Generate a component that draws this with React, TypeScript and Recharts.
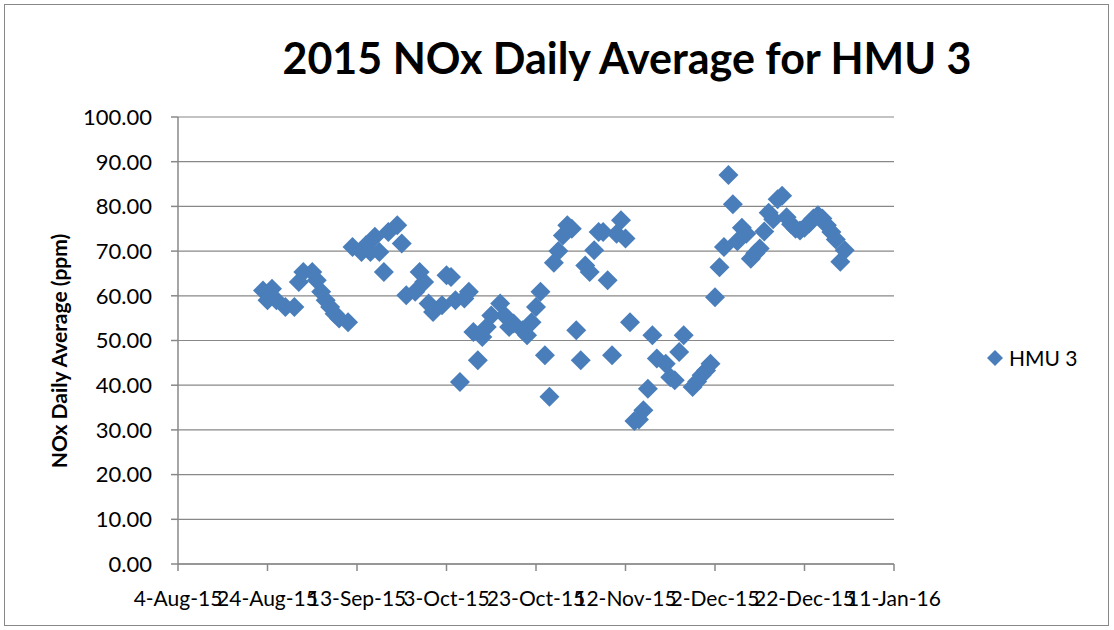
import { ScatterChart, Scatter, XAxis, YAxis, CartesianGrid, Legend } from 'recharts'

// x values are days counted from 4-Aug-15
const days = [
  19, 20, 21, 22, 24, 26, 27, 28, 30, 31, 32, 33, 34, 35, 36, 38,
  39, 41, 42, 43, 44, 45, 46, 47, 49, 50, 51, 53, 54, 55, 56, 57,
  59, 60, 61, 62, 63, 64, 65, 66, 67, 68, 69, 70, 72, 73, 74, 75,
  77, 78, 79, 80, 81, 82, 83, 84, 85, 86, 87, 88, 89, 90, 91, 92,
  93, 94, 95, 96, 97, 98, 99, 100, 101, 102, 103, 104, 105, 106, 107, 109,
  110, 111, 112, 113, 115, 116, 117, 118, 119, 120, 121, 122, 123, 124, 125, 126,
  127, 128, 129, 130, 131, 132, 133, 134, 135, 136, 137, 138, 139, 140, 141, 142,
  143, 144, 145, 146, 147, 148, 149,
]
const nox = [
  61.2, 59.0, 61.6, 59.0, 57.5, 57.5, 63.1, 65.3, 65.3, 63.5, 60.9, 59.0, 57.5, 56.0, 54.9, 54.1,
  70.9, 69.8, 71.3, 69.8, 73.2, 69.8, 65.3, 74.3, 75.8, 71.7, 60.1, 60.9, 65.3, 63.1, 58.3, 56.4,
  57.9, 64.6, 64.2, 59.0, 40.7, 59.4, 60.9, 51.9, 45.6, 50.8, 53.0, 55.6, 58.3, 55.6, 53.0, 53.8,
  52.3, 51.2, 54.1, 57.5, 60.9, 46.7, 37.4, 67.4, 70.0, 73.5, 75.8, 75.0, 52.3, 45.6, 66.8, 65.3,
  70.2, 74.3, 74.3, 63.5, 46.7, 73.9, 76.9, 72.8, 54.1, 32.0, 32.3, 34.4, 39.2, 51.2, 46.0, 44.8,
  41.8, 41.1, 47.4, 51.2, 39.6, 40.8, 42.2, 43.3, 44.8, 59.7, 66.4, 70.9, 87.0, 80.5, 72.2, 75.2,
  73.9, 68.3, 69.5, 70.6, 74.4, 78.6, 77.1, 81.6, 82.4, 77.6, 76.0, 75.0, 74.6, 75.2, 76.2, 77.3,
  78.0, 77.3, 75.8, 74.3, 72.6, 67.6, 70.2,
]

const xTicks = [0, 20, 40, 60, 80, 100, 120, 140, 160]
const xTickLabels = ['4-Aug-15', '24-Aug-15', '13-Sep-15', '3-Oct-15', '23-Oct-15', '12-Nov-15', '2-Dec-15', '22-Dec-15', '11-Jan-16']
const yTicks = [0, 10, 20, 30, 40, 50, 60, 70, 80, 90, 100]

const data = days.map((d, i) => ({ day: d, nox: nox[i] }))

const BLUE = '#4a7ebb'
const GRAY = '#888888'
const FONT = 'Lato, "Liberation Sans", sans-serif'

function Diamond(props: any) {
  const { cx, cy } = props
  if (cx == null || cy == null) return null
  const r = 10
  return <polygon points={`${cx},${cy - r} ${cx + r},${cy} ${cx},${cy + r} ${cx - r},${cy}`} fill={BLUE} />
}

function LegendContent({ payload }: any) {
  return (
    <div>
      {(payload || []).map((p: any) => (
        <div key={p.value} style={{ display: 'flex', alignItems: 'center', fontFamily: FONT, fontSize: 21, color: '#000' }}>
          <svg width={16} height={16}>
            <polygon points="8,0 16,8 8,16 0,8" fill={BLUE} />
          </svg>
          <span style={{ marginLeft: 6 }}>{p.value}</span>
        </div>
      ))}
    </div>
  )
}

export default function App() {
  return (
    <div style={{ position: 'absolute', left: 0, top: 0, width: 1114, height: 630, background: '#fff', fontFamily: FONT }}>
      <div style={{ position: 'absolute', left: 4, top: 4, width: 1103, height: 620, border: `1.5px solid ${GRAY}` }} />
      <div
        style={{
          position: 'absolute', left: 227, top: 32, width: 800, textAlign: 'center',
          fontSize: 43, fontWeight: 'bold', color: '#000', whiteSpace: 'nowrap',
        }}
      >
        2015 NOx Daily Average for HMU 3
      </div>
      <div
        style={{
          position: 'absolute', left: 58, top: 351, transform: 'translate(-50%, -50%) rotate(-90deg)',
          fontSize: 21, fontWeight: 'bold', color: '#000', whiteSpace: 'nowrap',
        }}
      >
        NOx Daily Average (ppm)
      </div>
      <ScatterChart width={1114} height={630} margin={{ top: 117, right: 220, bottom: 26, left: 0 }}>
        <CartesianGrid vertical={false} stroke={GRAY} strokeWidth={1.2} />
        <XAxis
          type="number"
          dataKey="day"
          domain={[0, 160]}
          ticks={xTicks}
          interval={0}
          height={40}
          tickFormatter={(v: number) => xTickLabels[xTicks.indexOf(v)]}
          tick={{ fill: '#000', fontSize: 21, fontFamily: FONT }}
          tickSize={7}
          tickMargin={20}
          stroke={GRAY}
          strokeWidth={1.5}
        />
        <YAxis
          type="number"
          dataKey="nox"
          domain={[0, 100]}
          ticks={yTicks}
          interval={0}
          width={178}
          tickFormatter={(v: number) => v.toFixed(2)}
          tick={{ fill: '#000', fontSize: 22, fontFamily: FONT }}
          tickSize={7}
          tickMargin={19}
          stroke={GRAY}
          strokeWidth={1.5}
        />
        <Legend
          layout="vertical"
          align="center"
          verticalAlign="middle"
          wrapperStyle={{ left: 987, top: 345, width: 120 }}
          content={<LegendContent />}
        />
        <Scatter name="HMU 3" data={data} fill={BLUE} shape={<Diamond />} isAnimationActive={false} />
      </ScatterChart>
    </div>
  )
}
